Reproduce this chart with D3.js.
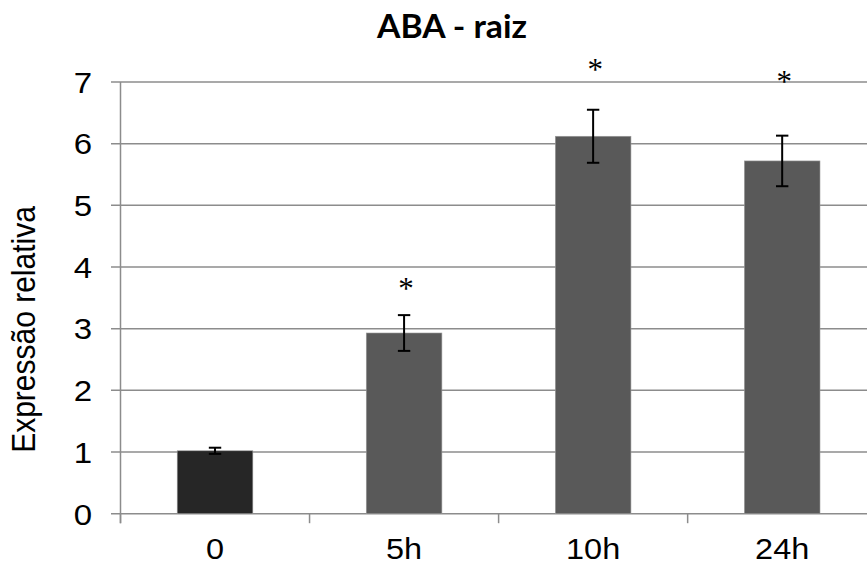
<!DOCTYPE html>
<html>
<head>
<meta charset="utf-8">
<script src="https://cdn.jsdelivr.net/npm/d3@7"></script>
<style>
  html, body { margin: 0; padding: 0; background: #fff; }
  svg { display: block; }
</style>
</head>
<body>
<svg id="chart" width="867" height="566"></svg>
<script>
// Relative expression of the gene under ABA treatment in root
const categories = ["0", "5h", "10h", "24h"];
const values = [1.02, 2.93, 6.12, 5.72];
const errors = [0.05, 0.29, 0.43, 0.41];
const barColors = ["#262626", "#595959", "#595959", "#595959"];
// significance markers: which bars are marked, and the height (in data units) of each mark
const significant = [false, true, true, true];
const markHeights = [null, 3.76, 7.30, 7.12];
const yTicks = [0, 1, 2, 3, 4, 5, 6, 7];
const titleText = "ABA - raiz";
const yLabelText = "Expressão relativa";

const svg = d3.select("#chart");
const gridColor = "#8c8c8c";
const xStretch = 1.1;

const x = d3.scaleBand()
  .domain(categories)
  .range([120.5, 876.7])
  .paddingInner(0.6)
  .paddingOuter(0.3);

const y = d3.scaleLinear().domain([0, 7]).range([513.7, 82]);

// horizontal gridlines with left tick marks
const grid = svg.append("g");
grid.selectAll("line.grid")
  .data(yTicks)
  .join("line")
  .attr("class", "grid")
  .attr("x1", 111).attr("x2", 867)
  .attr("y1", d => y(d)).attr("y2", d => y(d))
  .attr("stroke", gridColor).attr("stroke-width", 1.5);

// vertical axis line
grid.append("line")
  .attr("x1", 120.5).attr("x2", 120.5)
  .attr("y1", y(7)).attr("y2", y(0) + 9.5)
  .attr("stroke", gridColor).attr("stroke-width", 1.5);

// category separator ticks below the baseline
const step = x.step();
const bounds = d3.range(categories.length + 1).map(i => x.range()[0] + i * step);
grid.selectAll("line.xtick")
  .data(bounds)
  .join("line")
  .attr("class", "xtick")
  .attr("x1", d => d).attr("x2", d => d)
  .attr("y1", y(0)).attr("y2", y(0) + 9.5)
  .attr("stroke", gridColor).attr("stroke-width", 1.5);

// y tick labels
svg.append("g").selectAll("text")
  .data(yTicks)
  .join("text")
  .attr("transform", d => `translate(92,${y(d)}) scale(${xStretch},1)`)
  .attr("text-anchor", "end")
  .attr("dy", "0.36em")
  .attr("font-family", "'Liberation Sans', Arial, sans-serif")
  .attr("font-size", 30)
  .attr("fill", "#000")
  .text(d => d);

// x category labels
svg.append("g").selectAll("text")
  .data(categories)
  .join("text")
  .attr("transform", d => `translate(${x(d) + x.bandwidth() / 2},559.3) scale(${xStretch},1)`)
  .attr("text-anchor", "middle")
  .attr("font-family", "'Liberation Sans', Arial, sans-serif")
  .attr("font-size", 29.5)
  .attr("fill", "#000")
  .text(d => d);

// bars
const rows = categories.map((c, i) => ({
  c, v: values[i], e: errors[i], color: barColors[i], sig: significant[i], mark: markHeights[i]
}));

svg.append("g").selectAll("rect")
  .data(rows)
  .join("rect")
  .attr("x", d => x(d.c))
  .attr("width", x.bandwidth())
  .attr("y", d => y(d.v))
  .attr("height", d => y(0) - y(d.v))
  .attr("fill", d => d.color)
  .attr("stroke", "#9a9a9a")
  .attr("stroke-width", 0.6);

// error bars
const eb = svg.append("g").attr("stroke", "#000").attr("stroke-width", 2);
rows.forEach(d => {
  const cx = x(d.c) + x.bandwidth() / 2;
  const top = y(d.v + d.e), bot = y(d.v - d.e);
  eb.append("line").attr("x1", cx).attr("x2", cx).attr("y1", top).attr("y2", bot);
  eb.append("line").attr("x1", cx - 6.2).attr("x2", cx + 6.2).attr("y1", top).attr("y2", top);
  eb.append("line").attr("x1", cx - 6.2).attr("x2", cx + 6.2).attr("y1", bot).attr("y2", bot);
});

// significance asterisks
svg.append("g").selectAll("text")
  .data(rows.filter(d => d.sig))
  .join("text")
  .attr("x", d => x(d.c) + x.bandwidth() / 2 + 2)
  .attr("y", d => y(d.mark) + 17)
  .attr("text-anchor", "middle")
  .attr("font-family", "'Liberation Serif', 'Times New Roman', serif")
  .attr("font-size", 31)
  .attr("fill", "#000")
  .text("*");

// y axis title
svg.append("text")
  .attr("transform", `translate(35,329.5) scale(${xStretch},1) rotate(-90)`)
  .attr("text-anchor", "middle")
  .attr("font-family", "'Liberation Sans', Arial, sans-serif")
  .attr("font-size", 30)
  .attr("fill", "#000")
  .text(yLabelText);

// chart title
svg.append("text")
  .attr("x", 452)
  .attr("y", 37.5)
  .attr("text-anchor", "middle")
  .attr("font-family", "Lato, 'Open Sans', sans-serif")
  .attr("font-weight", 700)
  .attr("font-size", 32)
  .attr("textLength", 150)
  .attr("lengthAdjust", "spacingAndGlyphs")
  .attr("fill", "#000")
  .text(titleText);
</script>
</body>
</html>
